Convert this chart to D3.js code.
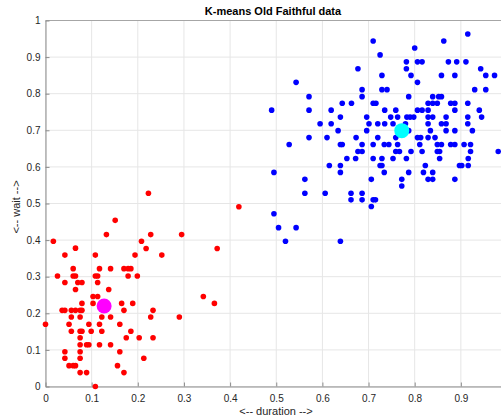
<!DOCTYPE html>
<html>
<head>
<meta charset="utf-8">
<script src="https://cdn.jsdelivr.net/npm/d3@7"></script>
<style>
  body { margin: 0; background: #fff; }
  svg { display: block; font-family: "Liberation Sans", Arial, sans-serif; }
  .tick text { fill: #262626; font-size: 10px; }
</style>
</head>
<body>
<svg id="chart" width="501" height="419"></svg>
<script>
  // normalised [duration, wait] pairs
  const longEruptions = [
    [0.543,0.831],[0.571,0.792],[0.490,0.755],[0.571,0.755],[0.619,0.755],[0.643,0.774],
    [0.639,0.736],[0.595,0.718],[0.619,0.718],[0.634,0.699],[0.571,0.680],[0.610,0.680],
    [0.710,0.944],[0.800,0.925],[0.725,0.906],[0.782,0.887],[0.806,0.887],[0.816,0.887],
    [0.677,0.868],[0.782,0.868],[0.729,0.850],[0.792,0.850],[0.806,0.831],[0.686,0.811],
    [0.729,0.811],[0.740,0.811],[0.686,0.792],[0.787,0.792],[0.663,0.774],[0.710,0.774],
    [0.716,0.774],[0.806,0.755],[0.816,0.755],[0.735,0.755],[0.759,0.755],[0.696,0.736],
    [0.748,0.736],[0.763,0.736],[0.783,0.736],[0.790,0.736],[0.798,0.736],[0.701,0.718],
    [0.720,0.718],[0.735,0.718],[0.753,0.718],[0.780,0.718],[0.696,0.699],[0.787,0.699],
    [0.673,0.680],[0.720,0.680],[0.759,0.680],[0.806,0.680],[0.813,0.680],
    [0.915,0.963],[0.863,0.944],[0.873,0.887],[0.891,0.887],[0.911,0.887],[0.943,0.868],
    [0.858,0.850],[0.887,0.850],[0.954,0.850],[0.973,0.850],[0.930,0.811],[0.954,0.811],
    [0.839,0.792],[0.852,0.792],[0.858,0.792],[0.829,0.774],[0.839,0.774],[0.849,0.774],
    [0.878,0.774],[0.887,0.774],[0.915,0.774],[0.829,0.755],[0.887,0.755],[0.940,0.755],
    [0.829,0.736],[0.839,0.736],[0.868,0.736],[0.915,0.736],[0.945,0.736],[0.829,0.718],
    [0.858,0.718],[0.868,0.718],[0.915,0.718],[0.834,0.699],[0.868,0.699],[0.887,0.699],
    [0.925,0.699],[0.829,0.680],[0.844,0.680],
    [0.528,0.661],[0.639,0.661],[0.643,0.661],[0.615,0.604],[0.639,0.604],[0.495,0.585],
    [0.639,0.585],[0.562,0.566],[0.562,0.528],[0.606,0.528],[0.495,0.472],[0.505,0.434],
    [0.543,0.434],[0.520,0.397],[0.639,0.397],
    [0.686,0.661],[0.710,0.661],[0.734,0.661],[0.744,0.661],[0.763,0.661],[0.811,0.661],
    [0.677,0.642],[0.686,0.642],[0.759,0.642],[0.767,0.642],[0.792,0.642],[0.816,0.642],
    [0.653,0.623],[0.672,0.623],[0.710,0.623],[0.729,0.623],[0.753,0.623],[0.782,0.623],
    [0.725,0.604],[0.729,0.604],[0.823,0.604],[0.734,0.585],[0.787,0.585],[0.819,0.585],
    [0.706,0.566],[0.772,0.566],[0.772,0.548],[0.662,0.528],[0.686,0.528],[0.662,0.510],
    [0.686,0.510],[0.710,0.510],[0.715,0.510],[0.706,0.492],
    [0.849,0.661],[0.858,0.661],[0.878,0.661],[0.887,0.661],[0.907,0.661],[0.921,0.661],
    [0.849,0.642],[0.854,0.642],[0.921,0.642],[0.981,0.642],[0.854,0.623],[0.916,0.623],
    [0.897,0.604],[0.902,0.604],[0.916,0.604],[0.839,0.585],[0.829,0.566],[0.839,0.566],
    [0.887,0.566]
  ];

  const shortEruptions = [
    [0.151,0.454],[0.132,0.415],[0.017,0.397],[0.208,0.397],[0.065,0.378],[0.042,0.359],
    [0.108,0.359],[0.194,0.359],[0.060,0.322],[0.117,0.322],[0.141,0.322],[0.170,0.322],
    [0.179,0.322],[0.185,0.322],[0.026,0.302],[0.060,0.302],[0.065,0.302],[0.108,0.302],
    [0.113,0.302],[0.179,0.302],[0.199,0.302],[0.042,0.284],[0.070,0.284],[0.079,0.284],
    [0.113,0.284],
    [0.223,0.528],[0.419,0.491],[0.228,0.415],[0.295,0.415],[0.218,0.377],[0.252,0.359],
    [0.372,0.377],
    [0.065,0.265],[0.137,0.265],[0.103,0.246],[0.113,0.246],[0.079,0.227],[0.103,0.227],
    [0.165,0.227],[0.189,0.227],[0.036,0.208],[0.042,0.208],[0.056,0.208],[0.065,0.208],
    [0.075,0.208],[0.079,0.208],[0.170,0.208],[0.056,0.190],[0.075,0.190],[0.122,0.190],
    [0.141,0.190],[0.000,0.170],[0.051,0.170],[0.094,0.170],[0.117,0.170],[0.161,0.170],
    [0.056,0.151],[0.075,0.151],[0.079,0.151],[0.099,0.151],[0.122,0.151],[0.185,0.151],
    [0.075,0.133],[0.175,0.133],[0.203,0.133],[0.075,0.114],[0.089,0.114],[0.094,0.114],
    [0.117,0.114],[0.141,0.114],[0.042,0.095],[0.075,0.095],[0.161,0.095],[0.042,0.077],
    [0.075,0.077],[0.213,0.077],[0.051,0.057],[0.060,0.057],[0.065,0.057],[0.156,0.057],
    [0.075,0.038],[0.089,0.038],[0.170,0.038],[0.108,0.000],
    [0.342,0.246],[0.366,0.227],[0.233,0.208],[0.228,0.190],[0.290,0.190],[0.233,0.133]
  ];

  const centroids = [[0.772, 0.699], [0.127, 0.220]];
  const clusterColors = ["#0000ff", "#ff0000"];
  const centroidColors = ["#00ffff", "#ff00ff"];
  const tickValues = d3.range(0, 11).map(i => i / 10);

  const svg = d3.select("#chart");
  const plotLeft = 45.5, plotRight = 507, plotTop = 20.5, plotBottom = 386.5;

  const x = d3.scaleLinear().domain([0, 1]).range([plotLeft, plotRight]);
  const y = d3.scaleLinear().domain([0, 1]).range([plotBottom, plotTop]);
  const fmt = d => d === 0 ? "0" : d === 1 ? "1" : d3.format(".1f")(d);

  // grid
  svg.append("g")
    .selectAll("line")
    .data(tickValues)
    .join("line")
    .attr("x1", d => x(d)).attr("x2", d => x(d))
    .attr("y1", plotTop).attr("y2", plotBottom)
    .attr("stroke", "#e6e6e6").attr("stroke-width", 1);
  svg.append("g")
    .selectAll("line")
    .data(tickValues)
    .join("line")
    .attr("x1", plotLeft).attr("x2", plotRight)
    .attr("y1", d => y(d)).attr("y2", d => y(d))
    .attr("stroke", "#e6e6e6").attr("stroke-width", 1);

  // box top
  svg.append("line")
    .attr("x1", plotLeft).attr("x2", plotRight).attr("y1", plotTop).attr("y2", plotTop)
    .attr("stroke", "#a6a6a6");

  const xAxis = svg.append("g")
    .attr("transform", `translate(0,${plotBottom})`)
    .call(d3.axisBottom(x).tickValues(tickValues.slice(0, 10)).tickFormat(fmt).tickSizeInner(-4).tickSizeOuter(0).tickPadding(8));
  const yAxis = svg.append("g")
    .attr("transform", `translate(${plotLeft},0)`)
    .call(d3.axisLeft(y).tickValues(tickValues).tickFormat(fmt).tickSizeInner(-4).tickSizeOuter(0).tickPadding(5));
  [xAxis, yAxis].forEach(a => {
    a.select(".domain").attr("stroke", "#8c8c8c");
    a.selectAll(".tick line").attr("stroke", "#8c8c8c");
  });

  // points
  [longEruptions, shortEruptions].forEach((pts, i) => {
    svg.append("g")
      .selectAll("circle")
      .data(pts)
      .join("circle")
      .attr("cx", d => x(d[0]))
      .attr("cy", d => y(d[1]))
      .attr("r", 2.8)
      .attr("fill", clusterColors[i]);
  });

  svg.append("g")
    .selectAll("circle")
    .data(centroids)
    .join("circle")
    .attr("cx", d => x(d[0]))
    .attr("cy", d => y(d[1]))
    .attr("r", 7.5)
    .attr("fill", (d, i) => centroidColors[i]);

  svg.append("text")
    .attr("x", 273).attr("y", 15)
    .attr("text-anchor", "middle")
    .attr("font-size", 11).attr("font-weight", "bold")
    .attr("fill", "#000")
    .text("K-means Old Faithful data");

  svg.append("text")
    .attr("x", 276).attr("y", 415)
    .attr("text-anchor", "middle")
    .attr("font-size", 11).attr("fill", "#262626")
    .text("<-- duration -->");

  svg.append("text")
    .attr("transform", "translate(20,207) rotate(-90)")
    .attr("text-anchor", "middle")
    .attr("font-size", 11).attr("fill", "#262626")
    .text("<-- wait -->");
</script>
</body>
</html>
